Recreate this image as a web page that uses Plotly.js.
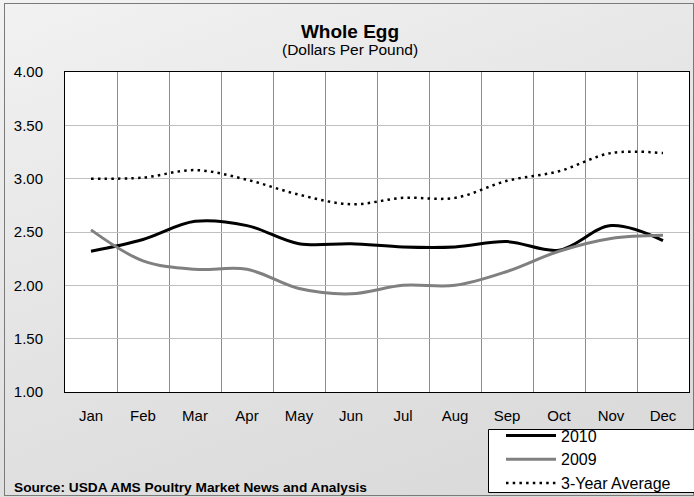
<!DOCTYPE html>
<html>
<head>
<meta charset="utf-8">
<script src="https://cdn.plot.ly/plotly-3.0.1.min.js"></script>
<style>
  html, body { margin: 0; padding: 0; }
  #wrap { position: relative; width: 694px; height: 497px; overflow: hidden;
          background: linear-gradient(160deg, #f2f2f2 0%, #e2e2e2 55%, #d8d8d8 100%); }
  #frame { position: absolute; left: 4px; top: 3px; width: 690px; height: 493px;
           border: 1px solid #7a7a7a; box-sizing: border-box; pointer-events: none; }
  #chart { position: absolute; left: 0; top: 0; width: 694px; height: 497px; }
</style>
</head>
<body>
<div id="wrap">
  <div id="frame"></div>
  <div id="chart"></div>
</div>
<script>
const months = ["Jan","Feb","Mar","Apr","May","Jun","Jul","Aug","Sep","Oct","Nov","Dec"];
const y2010 = [2.32, 2.43, 2.60, 2.56, 2.39, 2.39, 2.36, 2.36, 2.41, 2.33, 2.56, 2.42];
const y2009 = [2.52, 2.23, 2.15, 2.15, 1.97, 1.92, 2.00, 2.00, 2.13, 2.32, 2.44, 2.47];
const yAvg  = [3.00, 3.01, 3.08, 2.99, 2.85, 2.76, 2.82, 2.82, 2.98, 3.07, 3.24, 3.24];
const yTicks = [1.0, 1.5, 2.0, 2.5, 3.0, 3.5, 4.0];

const FONT = "Liberation Sans, Arial, sans-serif";

const traces = [
  { x: months, y: y2010, name: "2010", type: "scatter", mode: "lines",
    line: { color: "#000000", width: 3, shape: "spline", smoothing: 1 } },
  { x: months, y: y2009, name: "2009", type: "scatter", mode: "lines",
    line: { color: "#808080", width: 3, shape: "spline", smoothing: 1 } },
  { x: months, y: yAvg, name: "3-Year Average", type: "scatter", mode: "lines",
    line: { color: "#000000", width: 2.5, dash: "2.5px,4.2px", shape: "spline", smoothing: 1 } }
];

const L = 65, T = 72, R = 689, B = 392;
const W = 694, H = 497;
const pw = R - L, ph = B - T;
const px = v => (v - L) / pw;
const py = v => (B - v) / ph;

const layout = {
  width: W, height: H,
  margin: { l: L, t: T, r: W - R, b: H - B, pad: 0, autoexpand: false },
  paper_bgcolor: "rgba(0,0,0,0)",
  plot_bgcolor: "#ffffff",
  font: { family: FONT, color: "#000000", size: 15 },
  showlegend: true,
  title: { text: "<b>Whole Egg</b>", font: { family: FONT, size: 19, color: "#000000" },
           xref: "paper", x: px(350), xanchor: "center",
           yref: "container", y: 1 - 31 / H, yanchor: "middle" },
  xaxis: {
    type: "category", range: [-0.5, 11.5], tickson: "boundaries",
    showgrid: true, gridcolor: "#8c8c8c", gridwidth: 1,
    showline: true, mirror: true, linecolor: "#000000", linewidth: 1,
    ticks: "", ticklabelstandoff: 10, zeroline: false,
    tickfont: { family: FONT, size: 15, color: "#000000" }, fixedrange: true
  },
  yaxis: {
    range: [1, 4], tickvals: yTicks, tickformat: ".2f",
    showgrid: true, gridcolor: "#c0c0c0", gridwidth: 1,
    showline: true, mirror: true, linecolor: "#000000", linewidth: 1,
    ticks: "", ticklabelstandoff: 18, zeroline: false,
    tickfont: { family: FONT, size: 15, color: "#000000" }, fixedrange: true
  },
  legend: {
    x: px(501), xanchor: "left", y: py(418.5), yanchor: "top",
    bgcolor: "rgba(0,0,0,0)", borderwidth: 0,
    font: { family: FONT, size: 16, color: "#000000" },
    itemwidth: 50, traceorder: "normal"
  },
  shapes: [
    { type: "rect", xref: "paper", yref: "paper", layer: "below",
      x0: px(488.5), x1: px(700), y0: py(429.5), y1: py(492.5),
      fillcolor: "#ffffff", line: { color: "#000000", width: 1 } }
  ],
  annotations: [
    { text: "(Dollars Per Pound)", xref: "paper", yref: "paper",
      x: px(350), y: py(49), xanchor: "center", yanchor: "middle", showarrow: false,
      font: { family: FONT, size: 15.5, color: "#000000" } },
    { text: "<b>Source: USDA AMS Poultry Market News and Analysis</b>", xref: "paper", yref: "paper",
      x: px(12), y: py(487), xanchor: "left", yanchor: "middle", showarrow: false,
      font: { family: FONT, size: 13.7, color: "#000000" } }
  ]
};

Plotly.newPlot("chart", traces, layout, { displayModeBar: false, staticPlot: true });
</script>
</body>
</html>
